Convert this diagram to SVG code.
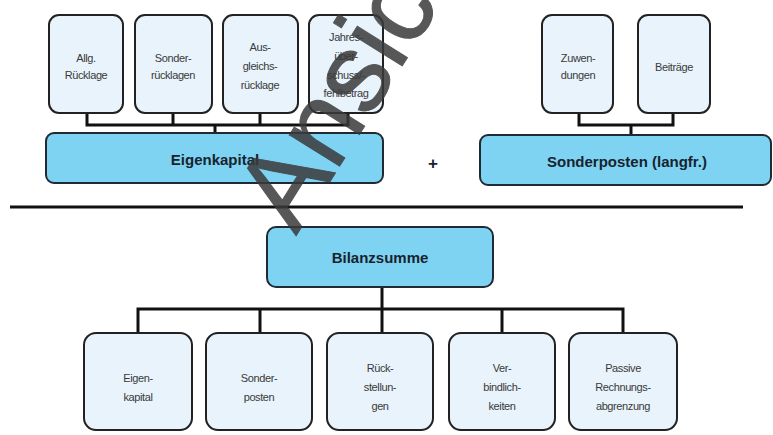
<svg xmlns="http://www.w3.org/2000/svg" width="773" height="435" viewBox="0 0 773 435">
<style>
.sm{fill:#e8f3fb;stroke:#222;stroke-width:2}
.big{fill:#7fd3f2;stroke:#1f2a33;stroke-width:2}
.t{font-family:"Liberation Sans",Arial,sans-serif;font-size:11px;fill:#3a3a3a;text-anchor:middle;letter-spacing:-0.4px}
.b{font-family:"Liberation Sans",Arial,sans-serif;font-size:15px;font-weight:bold;fill:#17232e;text-anchor:middle}
.c{fill:none;stroke:#111;stroke-width:3}
.wm{font-family:"Liberation Sans",Arial,sans-serif;font-size:112px;fill:#3a3a3a;stroke:#3a3a3a;stroke-width:1;opacity:0.85}
</style>
<rect width="773" height="435" fill="#fff"/>
<g id="connectors">
<path class="c" d="M87,113V125H348V113M173,113V125M260,113V125M215,125V133"/>
<path class="c" d="M579,113V125H673V113M631,125V135"/>
<path class="c" d="M10,207H743"/>
<path class="c" d="M382,287V309M138,333V309H623V333M260,309V333M382,309V333M502,309V333"/>
</g>
<g id="n-allg"><rect class="sm" x="49" y="15" width="74" height="98" rx="10"/><text class="t" x="86" y="62">Allg.</text><text class="t" x="86" y="79">Rücklage</text></g>
<g id="n-sonderruecklagen"><rect class="sm" x="135" y="15" width="77" height="98" rx="10"/><text class="t" x="173" y="62">Sonder-</text><text class="t" x="173" y="79">rücklagen</text></g>
<g id="n-ausgleich"><rect class="sm" x="223" y="15" width="75" height="98" rx="10"/><text class="t" x="260" y="51">Aus-</text><text class="t" x="260" y="70">gleichs-</text><text class="t" x="260" y="89">rücklage</text></g>
<g id="n-jahres"><rect class="sm" x="309" y="15" width="74" height="98" rx="10"/><text class="t" x="346" y="41">Jahres-</text><text class="t" x="346" y="60">über-</text><text class="t" x="346" y="79">schuss/-</text><text class="t" x="346" y="97">fehlbetrag</text></g>
<g id="n-zuwendungen"><rect class="sm" x="542" y="15" width="71" height="98" rx="10"/><text class="t" x="578" y="62">Zuwen-</text><text class="t" x="578" y="79">dungen</text></g>
<g id="n-beitraege"><rect class="sm" x="638" y="15" width="72" height="98" rx="10"/><text class="t" x="674" y="71">Beiträge</text></g>
<g id="n-eigenkapital"><rect class="big" x="46" y="133" width="337" height="50" rx="8"/><text class="b" x="215" y="165">Eigenkapital</text></g>
<g id="plus"><text class="b" x="433" y="169" style="font-size:17px">+</text></g>
<g id="n-sonderposten"><rect class="big" x="480" y="135" width="291" height="50" rx="8"/><text class="b" x="627" y="167">Sonderposten (langfr.)</text></g>
<g id="n-bilanzsumme"><rect class="big" x="267" y="227" width="226" height="60" rx="9"/><text class="b" x="380" y="263">Bilanzsumme</text></g>
<g id="n-b-eigenkapital"><rect class="sm" x="84" y="333" width="108" height="97" rx="12"/><text class="t" x="138" y="382">Eigen-</text><text class="t" x="138" y="401">kapital</text></g>
<g id="n-b-sonderposten"><rect class="sm" x="206" y="333" width="106" height="97" rx="12"/><text class="t" x="259" y="382">Sonder-</text><text class="t" x="259" y="401">posten</text></g>
<g id="n-b-rueck"><rect class="sm" x="327" y="333" width="106" height="97" rx="12"/><text class="t" x="380" y="372">Rück-</text><text class="t" x="380" y="391">stellun-</text><text class="t" x="380" y="410">gen</text></g>
<g id="n-b-verb"><rect class="sm" x="449" y="333" width="106" height="97" rx="12"/><text class="t" x="502" y="372">Ver-</text><text class="t" x="502" y="391">bindlich-</text><text class="t" x="502" y="410">keiten</text></g>
<g id="n-b-prap"><rect class="sm" x="569" y="333" width="108" height="97" rx="12"/><text class="t" x="623" y="372">Passive</text><text class="t" x="623" y="391">Rechnungs-</text><text class="t" x="623" y="410">abgrenzung</text></g>
<text class="wm" x="0" y="0" transform="translate(296,236) rotate(-58)">Ansicht</text>
</svg>
